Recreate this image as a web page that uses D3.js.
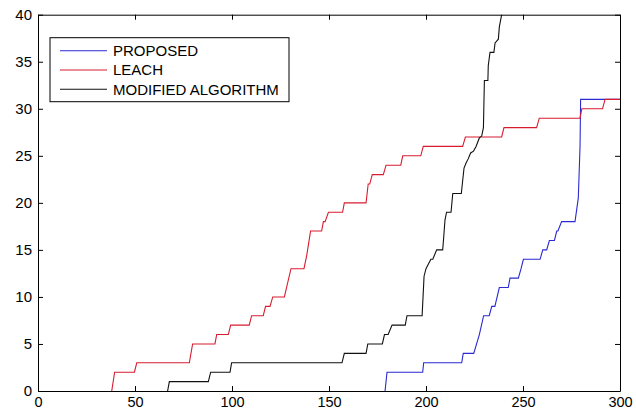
<!DOCTYPE html>
<html>
<head>
<meta charset="utf-8">
<script src="https://cdn.jsdelivr.net/npm/d3@7"></script>
<style>
  html, body { margin: 0; padding: 0; background: #ffffff; }
  svg { display: block; }
  text { font-family: "Liberation Sans", Arial, Helvetica, sans-serif; }
</style>
</head>
<body>
<svg id="chart" width="636" height="410"></svg>
<script>
// ---- data ----
const seriesNames = ["PROPOSED", "LEACH", "MODIFIED ALGORITHM"];
const xTicks = [0, 50, 100, 150, 200, 250, 300];
const yTicks = [0, 5, 10, 15, 20, 25, 30, 35, 40];

const proposed = [
  [178.9,0],[179.9,2],[198.3,2],[198.8,3],[218.4,3],[219.2,4],[224.6,4],[227.5,6],
  [229.7,8],[232.6,8],[233.9,9],[235.5,9],[237.8,11],[242.4,11],[243.3,12],[247.6,12],
  [249,13],[250.2,14],[258.8,14],[260.2,15],[262.2,15],[263.6,16],[266.2,16],[267.4,17],
  [268,17],[269.9,18],[276.8,18],[278.5,20.5],[279.4,26],[279.7,31],[300,31]
];
const leach = [
  [38,0],[39.5,2],[49.7,2],[50.9,3],[78,3],[79.7,5],[91.2,5],[92.1,6],[98.1,6],[99.3,7],
  [108.9,7],[110.1,8],[116.1,8],[117.3,9],[119.6,9],[121,10],[127,10],[130.4,13],
  [137.1,13],[138.5,14.4],[140.5,17],[146.2,17],[147.1,18],[148,18],[149.7,19],[157,19],
  [157.9,20],[169.1,20],[170.2,22],[171,22],[172.3,23],[178,23],[179.4,24],[187,24],
  [188,25],[197.3,25],[198.6,26],[218.9,26],[220.3,27],[239,27],[240.2,28],[257,28],
  [258.4,29],[279.4,29],[280.3,30],[291,30],[292.3,31],[300,31]
];
const modified = [
  [66.8,0],[67.7,1],[87.8,1],[89,2],[99,2],[99.8,3],[156.7,3],[157.9,4],[169.1,4],[170,5],
  [177.5,5],[178.6,6],[180.5,6],[182.5,7],[189.3,7],[190.2,8],[198,8],[199,12.2],[200,13],
  [202.5,14],[203.5,14],[205.5,15],[208.6,15],[209,16],[209.8,18.2],[210.6,19],[212.9,19],
  [213.8,21],[218.2,21],[219.6,23.7],[220.6,24.2],[221.8,24.7],[223,25.3],[224.5,25.5],
  [225.8,26],[227.5,26.9],[228.7,27.1],[229.6,28],[229.8,30],[230.1,33],[231.9,33],
  [232.1,34.6],[233,36],[235,36],[235.6,37],[237.3,37.4],[237.8,38.7],[239,40],[240,41]
];
const seriesColors = ["#2a2ad0", "#d81c30", "#111111"];

// ---- layout ----
const svg = d3.select("#chart");
const mLeft = 38, mRight = 620, mTop = 14.7, mBottom = 391;
const x = d3.scaleLinear().domain([0, 300]).range([mLeft, mRight]);
const y = d3.scaleLinear().domain([0, 40]).range([mBottom, mTop]);
const tickLen = 5;
const fontSize = 15;

svg.append("rect").attr("width", 636).attr("height", 410).attr("fill", "#ffffff");

svg.append("clipPath").attr("id", "plotclip")
  .append("rect").attr("x", mLeft).attr("y", mTop)
  .attr("width", mRight - mLeft).attr("height", mBottom - mTop);

// data lines
const line = d3.line().x(d => x(d[0])).y(d => y(d[1]));
const allSeries = [proposed, leach, modified];
const g = svg.append("g").attr("clip-path", "url(#plotclip)");
allSeries.forEach((s, i) => {
  g.append("path").datum(s)
    .attr("d", line)
    .attr("fill", "none")
    .attr("stroke", seriesColors[i])
    .attr("stroke-width", 1.1);
});

// axes: bottom/left with labels and inward ticks, top/right ticks only
const axisB = d3.axisBottom(x).tickValues(xTicks).tickSizeInner(-tickLen).tickSizeOuter(0).tickPadding(11);
const axisT = d3.axisTop(x).tickValues(xTicks).tickSizeInner(-tickLen).tickSizeOuter(0).tickFormat("");
const axisL = d3.axisLeft(y).tickValues(yTicks).tickSizeInner(-tickLen).tickSizeOuter(0).tickPadding(11);
const axisR = d3.axisRight(y).tickValues(yTicks).tickSizeInner(-tickLen).tickSizeOuter(0).tickFormat("");

function styleAxis(sel) {
  sel.selectAll("path.domain").attr("stroke", "#000").attr("stroke-width", 1);
  sel.selectAll(".tick line").attr("stroke", "#000").attr("stroke-width", 1);
  sel.selectAll(".tick text").attr("fill", "#000")
    .attr("font-family", "'Liberation Sans', Arial, sans-serif")
    .attr("font-size", fontSize);
}

const gb = svg.append("g").attr("transform", `translate(0,${mBottom})`).call(axisB);
styleAxis(gb);
gb.selectAll(".tick text").attr("font-size", 14.5).attr("dy", null).attr("y", 15.8);
const gt = svg.append("g").attr("transform", `translate(0,${mTop})`).call(axisT);
styleAxis(gt);
const gl = svg.append("g").attr("transform", `translate(${mLeft},0)`).call(axisL);
styleAxis(gl);
gl.selectAll(".tick text").attr("x", -6);
const gr = svg.append("g").attr("transform", `translate(${mRight},0)`).call(axisR);
styleAxis(gr);

// legend
const legX = 50, legY = 37.7, legW = 239, legH = 64;
const legend = svg.append("g");
legend.append("rect")
  .attr("x", legX).attr("y", legY).attr("width", legW).attr("height", legH)
  .attr("fill", "#ffffff").attr("stroke", "#000").attr("stroke-width", 1);
const rowY = [50.7, 70, 89.3];
seriesNames.forEach((name, i) => {
  legend.append("line")
    .attr("x1", 60).attr("x2", 107).attr("y1", rowY[i]).attr("y2", rowY[i])
    .attr("stroke", seriesColors[i]).attr("stroke-width", 1.1);
  legend.append("text")
    .attr("x", 113).attr("y", rowY[i]).attr("dy", "0.36em")
    .attr("font-size", fontSize).attr("fill", "#000")
    .text(name);
});
</script>
</body>
</html>
